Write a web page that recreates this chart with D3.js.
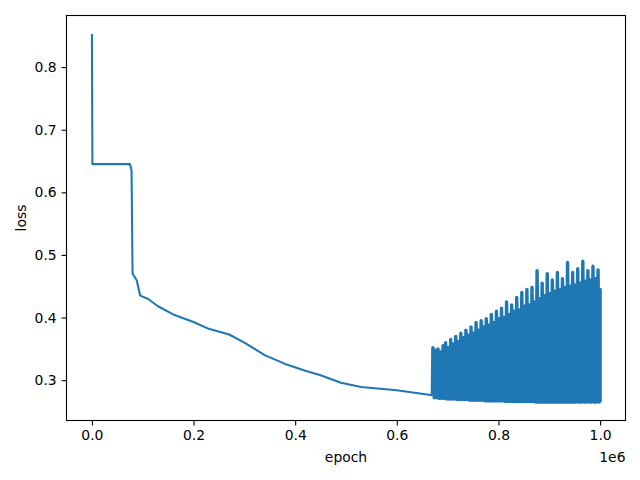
<!DOCTYPE html>
<html><head><meta charset="utf-8">
<script src="https://cdn.jsdelivr.net/npm/d3@7"></script>
<style>body{margin:0;background:#fff}svg{font-family:"DejaVu Sans",sans-serif}</style>
</head><body><svg id="c" width="640" height="480"></svg>
<script>
// smooth part of the loss curve: [epoch, loss]
const smoothEpochs = [0, 1000, 75000, 78000, 80000, 88000, 95000, 110000, 130000, 160000, 200000, 230000, 270000, 300000, 340000, 380000, 420000, 450000, 490000, 530000, 600000, 670000]
const smoothLoss = [0.853, 0.645, 0.645, 0.635, 0.47, 0.46, 0.435, 0.43, 0.418, 0.405, 0.393, 0.382, 0.373, 0.36, 0.34, 0.326, 0.315, 0.308, 0.296, 0.289, 0.284, 0.276]
// oscillating part, one peak/trough pair every 5000 epochs from 670000
const noiseStart = 670000, noiseStep = 5000
const peaks = [0.352,0.348,0.350,0.345,0.355,0.360,0.352,0.365,0.358,0.370,0.362,0.375,0.368,0.380,0.372,0.385,0.375,0.392,0.380,0.395,0.385,0.398,0.388,0.405,0.392,0.410,0.398,0.415,0.400,0.425,0.405,0.420,0.410,0.432,0.412,0.440,0.418,0.445,0.420,0.448,0.425,0.475,0.430,0.455,0.435,0.470,0.438,0.460,0.442,0.472,0.445,0.462,0.448,0.488,0.450,0.472,0.452,0.478,0.455,0.490,0.458,0.475,0.460,0.482,0.462,0.476]
const troughs = [0.272,0.272,0.271,0.271,0.271,0.270,0.270,0.270,0.270,0.269,0.269,0.269,0.269,0.269,0.268,0.268,0.268,0.268,0.268,0.268,0.267,0.267,0.267,0.267,0.267,0.267,0.267,0.267,0.266,0.266,0.266,0.266,0.266,0.266,0.266,0.266,0.266,0.266,0.266,0.266,0.265,0.265,0.265,0.265,0.265,0.265,0.265,0.265,0.265,0.265,0.265,0.265,0.265,0.265,0.265,0.265,0.265,0.265,0.265,0.265,0.265,0.265,0.265,0.265,0.265,0.265]
const xTicks = [0, 200000, 400000, 600000, 800000, 1000000]
const yTicks = [0.3, 0.4, 0.5, 0.6, 0.7, 0.8]

const smooth = smoothEpochs.map((e, i) => [e, smoothLoss[i]])
const noisy = [[noiseStart, smoothLoss[smoothLoss.length - 1]]]
peaks.forEach((p, i) => {
  const e = noiseStart + i * noiseStep
  noisy.push([e + 1000, p])
  noisy.push([e + 3500, troughs[i]])
})
noisy.push([1000000, 0.445], [1000000, 0.265])

const svg = d3.select('#c')
const m = {l: 66.5, r: 625.5, t: 15.5, b: 420.5}
const x = d3.scaleLinear().domain([-50000, 1050000]).range([m.l, m.r])
const y = d3.scaleLinear().domain([0.2356, 0.8824]).range([m.b, m.t])
const line = d3.line().x(d => x(d[0])).y(d => y(d[1]))

svg.append('path').datum(smooth).attr('d', line)
  .attr('fill', 'none').attr('stroke', '#1f77b4').attr('stroke-width', 2.08).attr('stroke-linejoin', 'round')
svg.append('path').datum(noisy).attr('d', line)
  .attr('fill', 'none').attr('stroke', '#1f77b4').attr('stroke-width', 3.4).attr('stroke-linejoin', 'round')

svg.append('g').attr('transform', `translate(0,${m.b})`)
  .call(d3.axisBottom(x).tickValues(xTicks).tickSize(4.9).tickPadding(4.9).tickFormat(d => d3.format('.1f')(d / 1e6)))
svg.append('g').attr('transform', `translate(${m.l},0)`)
  .call(d3.axisLeft(y).tickValues(yTicks).tickSize(4.9).tickPadding(4.9).tickFormat(d3.format('.1f')))
svg.selectAll('.domain').remove()
svg.selectAll('.tick text').attr('font-size', 13.9).attr('fill', '#000').attr('font-family', 'DejaVu Sans')
svg.selectAll('.tick line').attr('stroke', '#000').attr('stroke-width', 1.1)
svg.append('rect').attr('x', m.l).attr('y', m.t).attr('width', m.r - m.l).attr('height', m.b - m.t)
  .attr('fill', 'none').attr('stroke', '#000').attr('stroke-width', 1.1)

svg.append('text').attr('x', (m.l + m.r) / 2).attr('y', 462).attr('text-anchor', 'middle').attr('font-size', 13.9).text('epoch')
svg.append('text').attr('transform', `translate(26,${(m.t + m.b) / 2}) rotate(-90)`).attr('text-anchor', 'middle').attr('font-size', 13.9).text('loss')
svg.append('text').attr('x', m.r).attr('y', 462).attr('text-anchor', 'end').attr('font-size', 13.9).text('1e6')
</script></body></html>
